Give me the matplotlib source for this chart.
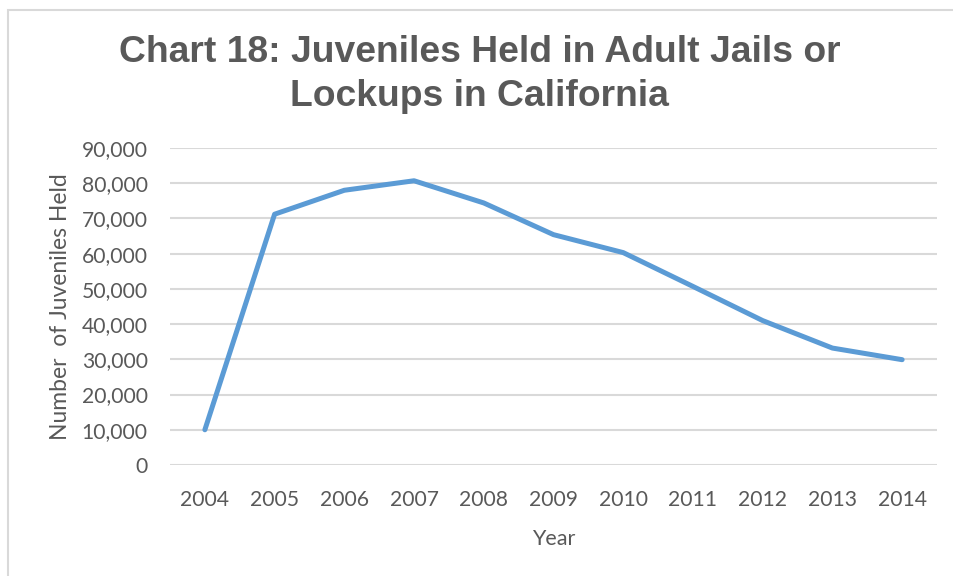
import matplotlib
matplotlib.use('Agg')
import matplotlib.pyplot as plt
from matplotlib.patches import Rectangle
from matplotlib.ticker import FuncFormatter

# Data
years = ['2004', '2005', '2006', '2007', '2008', '2009', '2010', '2011', '2012', '2013', '2014']
held = [10000, 71200, 78000, 80700, 74400, 65400, 60300, 50700, 41000, 33200, 29900]
y_ticks = [0, 10000, 20000, 30000, 40000, 50000, 60000, 70000, 80000, 90000]

TEXT = '#595959'
GRID = '#d9d9d9'
LINE = '#5b9bd5'
TICK_FONT = 'Lato'

W, H = 954, 576
fig = plt.figure(figsize=(W / 100, H / 100), dpi=100)

# chart area border (runs off the right and bottom of the image)
fig.patches.append(Rectangle((8 / W, -0.1), 1.2, 1 - 9.5 / H + 0.1, transform=fig.transFigure,
                             fill=False, edgecolor=GRID, linewidth=1.5))

left, right, top, bottom = 170, 937, 148, 465
ax = fig.add_axes([left / W, 1 - bottom / H, (right - left) / W, (bottom - top) / H])

x = range(len(years))
ax.plot(x, held, color=LINE, linewidth=3.6, solid_capstyle='round', solid_joinstyle='round', zorder=3)

ax.set_xlim(-0.5, len(years) - 0.5)
ax.set_ylim(0, 90000)
ax.set_yticks(y_ticks)
ax.yaxis.set_major_formatter(FuncFormatter(lambda v, p: f'{int(v):,}'))
ax.set_xticks(list(x))
ax.set_xticklabels(years)

ax.grid(axis='y', color=GRID, linewidth=1.5)
ax.set_axisbelow(True)
for s in ax.spines.values():
    s.set_visible(False)
ax.tick_params(length=0, labelsize=15.2, labelcolor=TEXT)
ax.tick_params(axis='y', pad=16)
ax.tick_params(axis='x', pad=18)
for lab in ax.get_xticklabels() + ax.get_yticklabels():
    lab.set_fontfamily(TICK_FONT)

ax.set_xlabel('Year', fontsize=15.5, color=TEXT, family=TICK_FONT, labelpad=14)
ax.set_ylabel('Number  of Juveniles Held', fontsize=16.5, color=TEXT, family=TICK_FONT, labelpad=8)

fig.text(0.503, 1 - 52 / H, 'Chart 18: Juveniles Held in Adult Jails or', ha='center', va='center',
         fontsize=26.8, fontweight='bold', color=TEXT, family='Liberation Sans')
fig.text(0.503, 1 - 97 / H, 'Lockups in California', ha='center', va='center',
         fontsize=26.8, fontweight='bold', color=TEXT, family='Liberation Sans')

fig.savefig('out.png', dpi=100, facecolor='white')
